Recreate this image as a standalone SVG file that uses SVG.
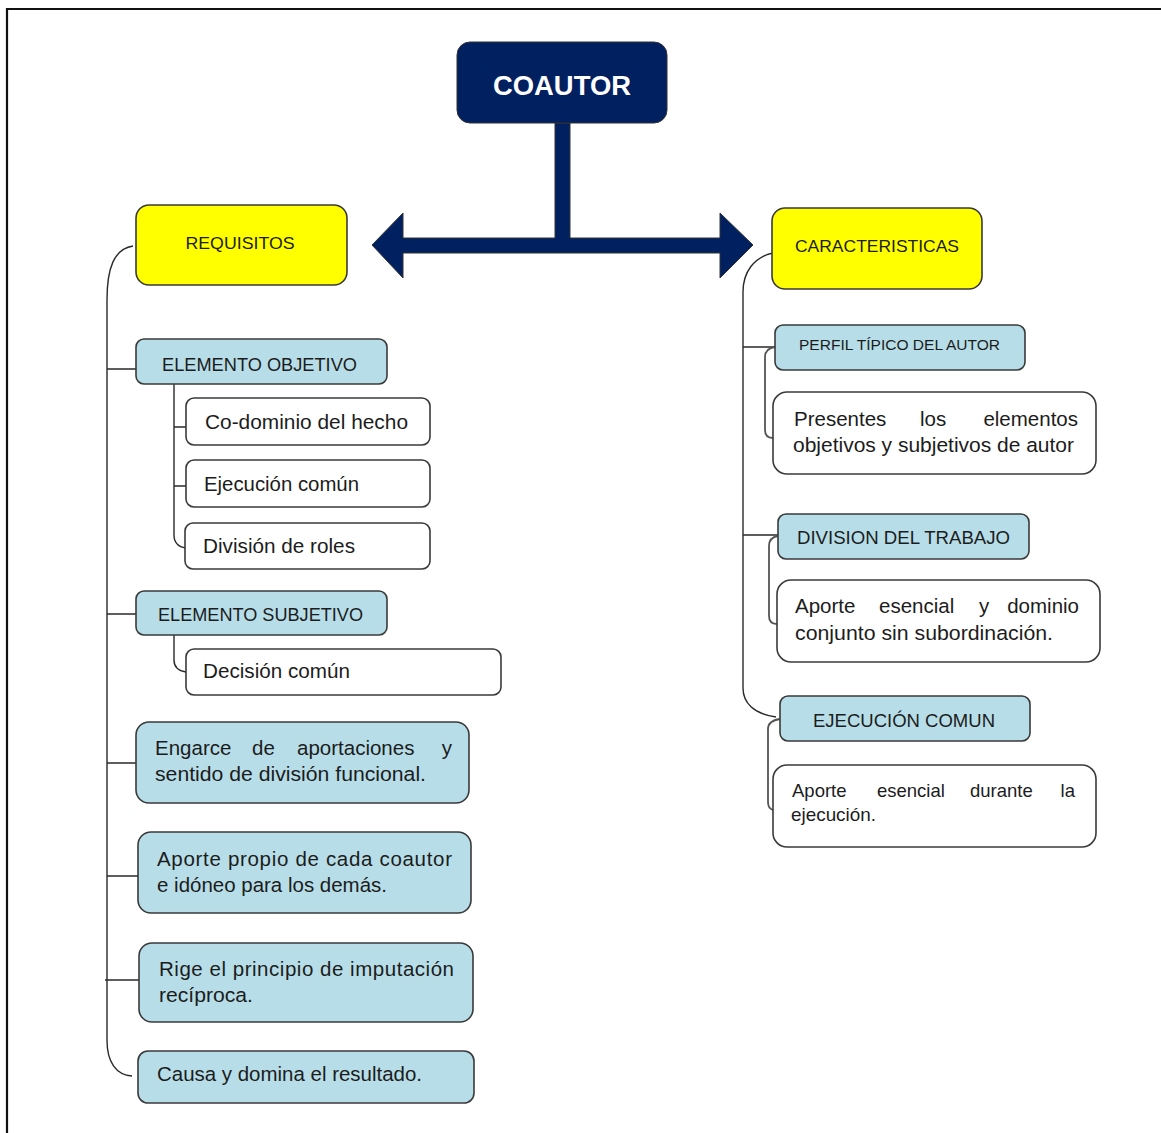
<svg xmlns="http://www.w3.org/2000/svg" width="1161" height="1133" viewBox="0 0 1161 1133">
<style>
text{font-family:"Liberation Sans",Arial,sans-serif;fill:#1c1c1c}
.t{font-size:20.5px}
.e{font-size:20.5px;text-anchor:end}
.cap{font-size:17.5px}
.sm{font-size:17px}
.s2{font-size:18.5px}
.s2e{font-size:18.5px;text-anchor:end}
.blue{fill:#B7DEE8;stroke:#3a3a3a;stroke-width:1.6}
.white{fill:#fff;stroke:#3a3a3a;stroke-width:1.6}
.yel{fill:#FFFF00;stroke:#3a3a3a;stroke-width:1.6}
.ln{fill:none;stroke:#2a2a2a;stroke-width:1.4}
.br{fill:none;stroke:#555;stroke-width:1.8}
</style>
<rect x="0" y="0" width="1161" height="1133" fill="#fff"/>
<path d="M7,1133 L7,9 L1161,9" fill="none" stroke="#111" stroke-width="2.2"/>

<g id="connectors">
<path d="M372,245 L403,213 L403,238 L555,238 L555,123 L570,123 L570,238 L720,238 L720,213 L753,245 L720,278 L720,253 L403,253 L403,278 Z" fill="#002060" stroke="#333" stroke-width="1"/>
<path class="ln" d="M133,246 C114,249 107,268 107,300 L107,1040 C107,1062 116,1075 132,1076"/>
<path class="ln" d="M107,369 H136 M107,614 H136 M107,763 H136 M107,876 H138 M105,980 H139"/>
<path class="ln" d="M174,384 V535 C174,543 179,547 186,548 M174,427 H186 M174,486 H186"/>
<path class="ln" d="M174,635 V660 C174,667 179,671 186,672"/>
<path class="ln" d="M773,253 C754,257 743,272 743,292 L743,688 C743,703 754,714 776,717"/>
<path class="ln" d="M743,347 H775 M743,535 H778"/>
<path class="br" d="M775,347 C768,348 765,351 765,357 V430 C765,435 768,438 773,438"/>
<path class="br" d="M778,536 C772,537 769,540 769,546 V616 C769,621 772,624 777,624"/>
<path class="br" d="M780,719 C773,720 768,723 768,729 V802 C768,807 770,809 773,810"/>
</g>

<g id="coautor">
<rect x="457" y="42" width="210" height="81" rx="13" fill="#002060" stroke="#333" stroke-width="1"/>
<text x="562" y="95" text-anchor="middle" font-size="27" font-weight="bold" style="fill:#fff" textLength="138" lengthAdjust="spacingAndGlyphs">COAUTOR</text>
</g>

<g id="requisitos">
<rect class="yel" x="136" y="205" width="211" height="80" rx="13"/>
<text class="sm" x="240" y="249" text-anchor="middle" textLength="109" lengthAdjust="spacingAndGlyphs">REQUISITOS</text>
</g>

<g id="caracteristicas">
<rect class="yel" x="772" y="208" width="210" height="81" rx="13"/>
<text class="sm" x="877" y="252" text-anchor="middle" textLength="164" lengthAdjust="spacingAndGlyphs">CARACTERISTICAS</text>
</g>

<g id="elemento-objetivo">
<rect class="blue" x="136" y="339" width="251" height="45" rx="8"/>
<text class="cap" x="162" y="371" textLength="195" lengthAdjust="spacingAndGlyphs">ELEMENTO  OBJETIVO</text>
</g>
<g id="codominio">
<rect class="white" x="186" y="398" width="244" height="47" rx="8"/>
<text class="t" x="205" y="429" textLength="203" lengthAdjust="spacingAndGlyphs">Co-dominio del hecho</text>
</g>
<g id="ejecucion">
<rect class="white" x="186" y="460" width="244" height="47" rx="8"/>
<text class="t" x="204" y="491" textLength="155" lengthAdjust="spacingAndGlyphs">Ejecución común</text>
</g>
<g id="division-roles">
<rect class="white" x="185" y="523" width="245" height="46" rx="8"/>
<text class="t" x="203" y="553" textLength="152" lengthAdjust="spacingAndGlyphs">División de roles</text>
</g>

<g id="elemento-subjetivo">
<rect class="blue" x="136" y="591" width="251" height="44" rx="8"/>
<text class="cap" x="158" y="621" textLength="205" lengthAdjust="spacingAndGlyphs">ELEMENTO  SUBJETIVO</text>
</g>
<g id="decision">
<rect class="white" x="186" y="649" width="315" height="46" rx="8"/>
<text class="t" x="203" y="678" textLength="147" lengthAdjust="spacingAndGlyphs">Decisión común</text>
</g>

<g id="engarce">
<rect class="blue" x="136" y="722" width="333" height="81" rx="13"/>
<text class="t" x="155" y="755">Engarce</text>
<text class="t" x="252" y="755">de</text>
<text class="t" x="297" y="755">aportaciones</text>
<text class="e" x="452" y="755">y</text>
<text class="t" x="155" y="781" textLength="271" lengthAdjust="spacingAndGlyphs">sentido de división funcional.</text>
</g>
<g id="aporte-propio">
<rect class="blue" x="138" y="832" width="333" height="81" rx="13"/>
<text class="t" x="157" y="866" textLength="295" lengthAdjust="spacing">Aporte propio de cada coautor</text>
<text class="t" x="157" y="892" textLength="230" lengthAdjust="spacingAndGlyphs">e idóneo para los demás.</text>
</g>
<g id="rige">
<rect class="blue" x="139" y="943" width="334" height="79" rx="13"/>
<text class="t" x="159" y="976" textLength="295" lengthAdjust="spacing">Rige el principio de imputación</text>
<text class="t" x="159" y="1002" textLength="94" lengthAdjust="spacingAndGlyphs">recíproca.</text>
</g>
<g id="causa">
<rect class="blue" x="138" y="1051" width="336" height="52" rx="10"/>
<text class="t" x="157" y="1081" textLength="265" lengthAdjust="spacingAndGlyphs">Causa y domina el resultado.</text>
</g>

<g id="perfil">
<rect class="blue" x="775" y="325" width="250" height="45" rx="8"/>
<text x="799" y="350" font-size="15.5" textLength="201" lengthAdjust="spacingAndGlyphs">PERFIL TÍPICO DEL AUTOR</text>
</g>
<g id="presentes">
<rect class="white" x="773" y="392" width="323" height="82" rx="14"/>
<text class="t" x="794" y="426">Presentes</text>
<text class="t" x="920" y="426">los</text>
<text class="e" x="1078" y="426">elementos</text>
<text class="t" x="793" y="452" textLength="281" lengthAdjust="spacingAndGlyphs">objetivos y subjetivos de autor</text>
</g>
<g id="division-trabajo">
<rect class="blue" x="778" y="514" width="251" height="45" rx="8"/>
<text class="cap" x="797" y="544" textLength="213" lengthAdjust="spacingAndGlyphs">DIVISION  DEL TRABAJO</text>
</g>
<g id="aporte-dominio">
<rect class="white" x="777" y="580" width="323" height="82" rx="14"/>
<text class="t" x="795" y="613">Aporte</text>
<text class="t" x="879" y="613">esencial</text>
<text class="t" x="979" y="613">y</text>
<text class="e" x="1079" y="613">dominio</text>
<text class="t" x="795" y="640" textLength="258" lengthAdjust="spacingAndGlyphs">conjunto sin subordinación.</text>
</g>
<g id="ejecucion-comun">
<rect class="blue" x="780" y="696" width="250" height="45" rx="8"/>
<text class="cap" x="813" y="727" textLength="182" lengthAdjust="spacingAndGlyphs">EJECUCIÓN  COMUN</text>
</g>
<g id="aporte-durante">
<rect class="white" x="773" y="765" width="323" height="82" rx="14"/>
<text class="s2" x="792" y="797">Aporte</text>
<text class="s2" x="877" y="797">esencial</text>
<text class="s2" x="970" y="797">durante</text>
<text class="s2e" x="1075" y="797">la</text>
<text class="s2" x="791" y="821" textLength="85" lengthAdjust="spacingAndGlyphs">ejecución.</text>
</g>
</svg>
